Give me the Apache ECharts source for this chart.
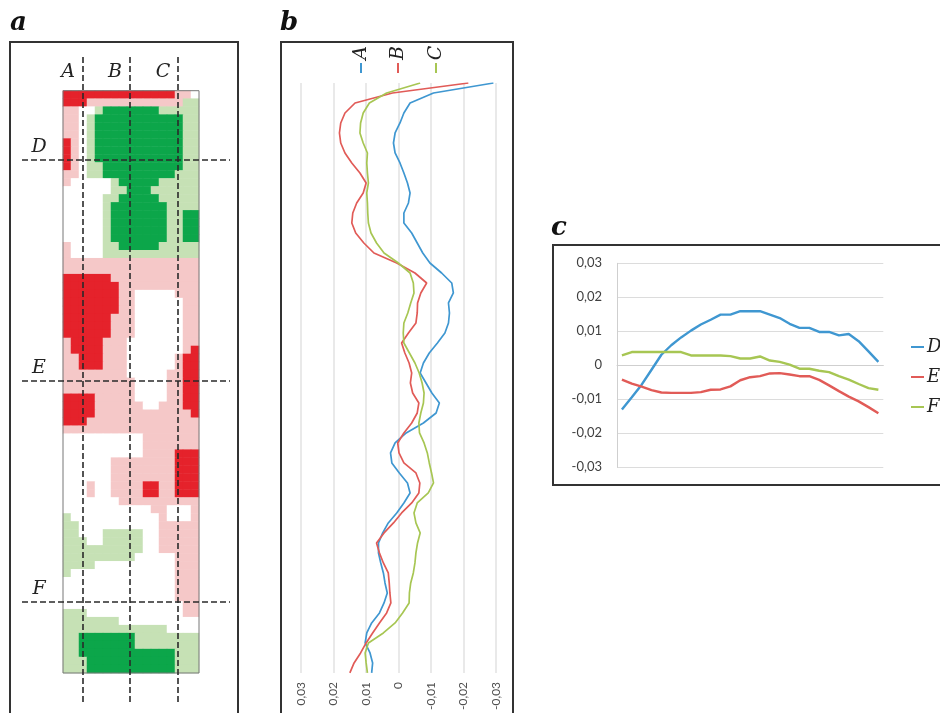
<!DOCTYPE html>
<html>
<head>
<meta charset="utf-8">
<script src="https://cdn.jsdelivr.net/npm/echarts@6/dist/echarts.min.js"></script>
<style>
  html, body { margin: 0; padding: 0; background: #fff; }
  #chart { width: 940px; height: 713px; }
</style>
</head>
<body>
<div id="chart"></div>
<script>
// panel a: surface map, one string per row (top to bottom), one char per cell
// W = white, p = light red, R = red, g = light green, G = green
const mapRows = [
  "RRRRRRRRRRRRRRppW",
  "RRRppppppppppppgg",
  "ppWWgGGGGGGGggggg",
  "ppWgGGGGGGGGGGGgg",
  "ppWgGGGGGGGGGGGgg",
  "ppWgGGGGGGGGGGGgg",
  "RpWgGGGGGGGGGGGgg",
  "RpWgGGGGGGGGGGGgg",
  "RpWgGGGGGGGGGGGgg",
  "RpWggGGGGGGGGGGgg",
  "ppWggGGGGGGGGGggg",
  "pWWWWWgGGGGGggggg",
  "WWWWWWggGGGgggggg",
  "WWWWWggGGGGGggggg",
  "WWWWWgGGGGGGGgggg",
  "WWWWWgGGGGGGGggGG",
  "WWWWWgGGGGGGGggGG",
  "WWWWWgGGGGGGGggGG",
  "WWWWWgGGGGGGGggGG",
  "pWWWWggGGGGGggggg",
  "pWWWWgggggggggggg",
  "ppppppppppppppppp",
  "ppppppppppppppppp",
  "RRRRRRppppppppppp",
  "RRRRRRRpppppppppp",
  "RRRRRRRppWWWWWppp",
  "RRRRRRRppWWWWWWpp",
  "RRRRRRRppWWWWWWpp",
  "RRRRRRpppWWWWWWpp",
  "RRRRRRpppWWWWWWpp",
  "RRRRRRpppWWWWWWpp",
  "pRRRRpppWWWWWWWpp",
  "pRRRRpppWWWWWWWpR",
  "ppRRRpppWWWWWWpRR",
  "ppRRRpppWWWWWWpRR",
  "ppppppppWWWWWppRR",
  "pppppppppWWWWppRR",
  "pppppppppWWWWppRR",
  "RRRRpppppWWWWppRR",
  "RRRRppppppWWpppRR",
  "RRRRppppppppppppR",
  "RRRpppppppppppppp",
  "ppppppppppppppppp",
  "WWWWWWWWWWppppppp",
  "WWWWWWWWWWppppppp",
  "WWWWWWWWWWppppRRR",
  "WWWWWWppppppppRRR",
  "WWWWWWppppppppRRR",
  "WWWWWWppppppppRRR",
  "WWWpWWppppRRppRRR",
  "WWWpWWppppRRppRRR",
  "WWWWWWWpppppppppp",
  "WWWWWWWWWWWppWWWp",
  "gWWWWWWWWWWWpWWWp",
  "ggWWWWWWWWWWppppp",
  "ggWWWgggggWWppppp",
  "gggWWgggggWWppppp",
  "ggggggggggWWppppp",
  "gggggggggWWWWWppp",
  "ggggWWWWWWWWWWppp",
  "gWWWWWWWWWWWWWppp",
  "WWWWWWWWWWWWWWppp",
  "WWWWWWWWWWWWWWppp",
  "WWWWWWWWWWWWWWppp",
  "WWWWWWWWWWWWWWWpp",
  "gggWWWWWWWWWWWWpp",
  "gggggggWWWWWWWWWW",
  "gggggggggggggWWWW",
  "ggGGGGGGGgggggggg",
  "ggGGGGGGGgggggggg",
  "ggGGGGGGGGGGGGggg",
  "gggGGGGGGGGGGGggg",
  "gggGGGGGGGGGGGggg"
];
const mapCodes = ["W", "p", "R", "g", "G"];
const mapColors = ["#ffffff", "#f5c8c8", "#e5222b", "#c6e1b5", "#0ca64a"];

// panel b: longitudinal profiles, listed from top of the strip to the bottom
const profileNames = ["A", "B", "C"];
const profA = [-0.0292, -0.0108, -0.0036, -0.0017, -0.0005, 0.0010, 0.0015, 0.0010, -0.0005, -0.0017,
  -0.0028, -0.0036, -0.0031, -0.0017, -0.0017, -0.0041, -0.0058, -0.0075, -0.0097, -0.0133,
  -0.0164, -0.0169, -0.0154, -0.0157, -0.0154, -0.0143, -0.0120, -0.0095, -0.0077, -0.0067,
  -0.0085, -0.0103, -0.0126, -0.0116, -0.0077, -0.0024, 0.0010, 0.0024, 0.0020, -0.0003,
  -0.0028, -0.0036, -0.0017, 0.0005, 0.0031, 0.0048, 0.0061, 0.0061, 0.0054, 0.0046,
  0.0041, 0.0034, 0.0044, 0.0058, 0.0082, 0.0097, 0.0102, 0.0087, 0.0079, 0.0082];
const profB = [-0.0215, 0.0018, 0.0133, 0.0164, 0.0177, 0.0181, 0.0177, 0.0164, 0.0143, 0.0118,
  0.0099, 0.0108, 0.0128, 0.0140, 0.0143, 0.0131, 0.0106, 0.0075, 0.0005, -0.0051,
  -0.0087, -0.0069, -0.0059, -0.0058, -0.0054, -0.0031, -0.0010, -0.0020, -0.0033, -0.0041,
  -0.0037, -0.0044, -0.0063, -0.0058, -0.0041, -0.0017, 0.0002, -0.0002, -0.0017, -0.0054,
  -0.0066, -0.0063, -0.0041, -0.0010, 0.0015, 0.0044, 0.0067, 0.0058, 0.0046, 0.0031,
  0.0028, 0.0026, 0.0023, 0.0036, 0.0058, 0.0079, 0.0099, 0.0116, 0.0136, 0.0149];
const profC = [-0.0067, 0.0036, 0.0089, 0.0108, 0.0116, 0.0118, 0.0108, 0.0095, 0.0097, 0.0095,
  0.0092, 0.0097, 0.0095, 0.0094, 0.0092, 0.0084, 0.0067, 0.0044, 0.0000, -0.0036,
  -0.0046, -0.0048, -0.0038, -0.0029, -0.0017, -0.0015, -0.0017, -0.0034, -0.0051, -0.0064,
  -0.0073, -0.0079, -0.0077, -0.0069, -0.0063, -0.0065, -0.0079, -0.0089, -0.0095, -0.0102,
  -0.0108, -0.0092, -0.0058, -0.0048, -0.0054, -0.0067, -0.0059, -0.0054, -0.0051, -0.0046,
  -0.0038, -0.0034, -0.0033, -0.0013, 0.0010, 0.0046, 0.0092, 0.0102, 0.0099, 0.0095];

// panel c: cross profiles, left to right
const crossNames = ["D", "E", "F"];
const crossD = [-0.0130, -0.0094, -0.0057, -0.0013, 0.0031, 0.0059, 0.0082, 0.0102, 0.0120, 0.0134,
  0.0149, 0.0149, 0.0159, 0.0159, 0.0159, 0.0149, 0.0139, 0.0122, 0.0110, 0.0110,
  0.0098, 0.0098, 0.0088, 0.0092, 0.0071, 0.0041, 0.0010];
const crossE = [-0.0042, -0.0054, -0.0063, -0.0073, -0.0080, -0.0081, -0.0081, -0.0081, -0.0079, -0.0072,
  -0.0071, -0.0062, -0.0044, -0.0035, -0.0032, -0.0024, -0.0023, -0.0027, -0.0032, -0.0032,
  -0.0043, -0.0059, -0.0076, -0.0092, -0.0106, -0.0123, -0.0141];
const crossF = [0.0029, 0.0039, 0.0039, 0.0039, 0.0039, 0.0039, 0.0039, 0.0029, 0.0029, 0.0029,
  0.0029, 0.0027, 0.0020, 0.0020, 0.0026, 0.0014, 0.0010, 0.0002, -0.0010, -0.0010,
  -0.0016, -0.0020, -0.0032, -0.0042, -0.0055, -0.0067, -0.0072];

// value axis ticks shared by b and c
const axisMin = -0.03, axisMax = 0.03, axisStep = 0.01;

const lineColors = ["#3f97d1", "#e15b57", "#a7c653"];
const tickFmt = v => (Math.abs(v) < 1e-9 ? "0" : v.toFixed(2).replace(".", ","));
const serif = '"DejaVu Serif", "Liberation Serif", serif';

const chart = echarts.init(document.getElementById("chart"), null, { renderer: "canvas" });

const heatData = [];
mapRows.forEach((row, r) => {
  for (let c = 0; c < row.length; c++) heatData.push([c, r, mapCodes.indexOf(row[c])]);
});
const nCols = mapRows[0].length;

// static drawing: frames, dashed section lines, letters
const graphic = [
  { type: "rect", shape: { x: 10, y: 42, width: 228, height: 700 }, style: { fill: "none", stroke: "#333", lineWidth: 2 } },
  { type: "rect", shape: { x: 281, y: 42, width: 232, height: 700 }, style: { fill: "none", stroke: "#333", lineWidth: 2 } },
  { type: "rect", shape: { x: 553, y: 245, width: 400, height: 240 }, style: { fill: "none", stroke: "#333", lineWidth: 2 } },
  { type: "rect", z: 10, shape: { x: 63, y: 90.7, width: 136, height: 582.3 }, style: { fill: "none", stroke: "#777", lineWidth: 1 } },
  { type: "text", x: 10, y: 23, style: { text: "a", font: 'italic bold 26px ' + serif, fill: "#111", verticalAlign: "middle" } },
  { type: "text", x: 280, y: 23, style: { text: "b", font: 'italic bold 26px ' + serif, fill: "#111", verticalAlign: "middle" } },
  { type: "text", x: 551, y: 228, style: { text: "c", font: 'italic bold 26px ' + serif, fill: "#111", verticalAlign: "middle" } }
];
const dash = { stroke: "#2a2a2a", lineWidth: 1.6, lineDash: [6, 3] };
[83, 130, 178].forEach((x, i) => {
  graphic.push({ type: "line", z: 11, shape: { x1: x, y1: 57, x2: x, y2: 703 }, style: dash });
  graphic.push({ type: "text", z: 11, x: x - 15, y: 72, style: { text: profileNames[i], font: 'italic 19px ' + serif, fill: "#222", align: "center", verticalAlign: "middle" } });
});
[160, 381, 602].forEach((y, i) => {
  graphic.push({ type: "line", z: 11, shape: { x1: 22, y1: y, x2: 230, y2: y }, style: dash });
  graphic.push({ type: "text", z: 11, x: 39, y: y - 13, style: { text: crossNames[i], font: 'italic 19px ' + serif, fill: "#222", align: "center", verticalAlign: "middle" } });
});
// rotated legend of panel b
[361, 398, 436].forEach((x, i) => {
  graphic.push({ type: "text", x: x, y: 53, rotation: Math.PI / 2, style: { text: profileNames[i], font: 'italic 19px ' + serif, fill: "#222", align: "center", verticalAlign: "middle" } });
  graphic.push({ type: "line", shape: { x1: x, y1: 63, x2: x, y2: 73 }, style: { stroke: lineColors[i], lineWidth: 2 } });
});

const profIdx = profA.map((_, i) => i);
const crossIdx = crossD.map((_, i) => i);
const labelFont = "Lato, 'Open Sans', sans-serif";

const option = {
  backgroundColor: "#fff",
  animation: false,
  graphic: graphic,
  legend: {
    data: crossNames,
    orient: "vertical",
    left: 906,
    top: 332,
    icon: "rect",
    itemWidth: 13,
    itemHeight: 2,
    itemGap: 10,
    selectedMode: false,
    textStyle: { fontFamily: serif, fontStyle: "italic", fontSize: 18, lineHeight: 20, color: "#222", padding: [0, 0, 0, -2] }
  },
  visualMap: {
    type: "piecewise",
    show: false,
    seriesIndex: 0,
    dimension: 2,
    pieces: mapCodes.map((k, i) => ({ value: i, color: mapColors[i] }))
  },
  grid: [
    { left: 63, top: 90.7, width: 136, height: 582.3 },
    { left: 300.7, top: 83, width: 195.3, height: 590 },
    { left: 617, top: 263.3, width: 266.3, height: 204 }
  ],
  xAxis: [
    { gridIndex: 0, type: "category", data: Array.from({ length: nCols }, (_, i) => i), show: false },
    {
      gridIndex: 1, type: "value", min: axisMin, max: axisMax, interval: axisStep, inverse: true,
      axisLine: { show: false }, axisTick: { show: false },
      splitLine: { lineStyle: { color: "#e2e2e2", width: 1.5 } },
      axisLabel: { rotate: 90, margin: 9, fontSize: 12, color: "#505050", fontFamily: labelFont, formatter: tickFmt }
    },
    {
      gridIndex: 2, type: "category", data: crossIdx, boundaryGap: true,
      axisLine: { onZero: true, lineStyle: { color: "#cfcfcf" } },
      axisTick: { show: false }, axisLabel: { show: false }, splitLine: { show: false }
    }
  ],
  yAxis: [
    { gridIndex: 0, type: "category", data: mapRows.map((_, i) => i), inverse: true, show: false },
    { gridIndex: 1, type: "category", data: profIdx, inverse: true, boundaryGap: false, show: false },
    {
      gridIndex: 2, type: "value", min: axisMin, max: axisMax, interval: axisStep,
      axisLine: { show: true, lineStyle: { color: "#cfcfcf" } }, axisTick: { show: false },
      splitLine: { lineStyle: { color: "#dcdcdc", width: 1.2 } },
      axisLabel: { margin: 15, fontSize: 13, color: "#404040", fontFamily: labelFont, formatter: tickFmt }
    }
  ],
  series: [
    { type: "heatmap", xAxisIndex: 0, yAxisIndex: 0, data: heatData, emphasis: { disabled: true } },
    ...[profA, profB, profC].map((d, i) => ({
      name: profileNames[i], type: "line", xAxisIndex: 1, yAxisIndex: 1, data: d,
      symbol: "none", lineStyle: { width: 1.7, color: lineColors[i] }, itemStyle: { color: lineColors[i] }
    })),
    ...[crossD, crossE, crossF].map((d, i) => ({
      name: crossNames[i], type: "line", xAxisIndex: 2, yAxisIndex: 2, data: d,
      symbol: "none", lineStyle: { width: 2.4, color: lineColors[i] }, itemStyle: { color: lineColors[i] }
    }))
  ]
};

chart.setOption(option);
</script>
</body>
</html>
